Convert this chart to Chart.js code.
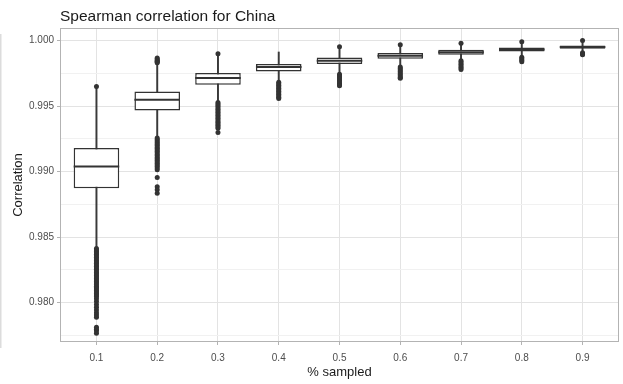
<!DOCTYPE html>
<html>
<head>
<meta charset="utf-8">
<script src="https://cdn.jsdelivr.net/npm/chart.js@4.4.1/dist/chart.umd.min.js"></script>
<style>
html,body{margin:0;padding:0;background:#ffffff;}
#wrap{width:623px;height:384px;position:relative;}
</style>
</head>
<body>
<div id="wrap"><canvas id="c" width="623" height="384"></canvas></div>
<script>
// ---- data ----
const categories = [0.1, 0.2, 0.3, 0.4, 0.5, 0.6, 0.7, 0.8, 0.9];
const tickLabels = ['0.1', '0.2', '0.3', '0.4', '0.5', '0.6', '0.7', '0.8', '0.9'];

const q1          = [0.98873, 0.99466, 0.99662, 0.99763, 0.99820, 0.99860, 0.99891, 0.99916, 0.99937];
const median      = [0.99038, 0.99547, 0.99713, 0.99797, 0.99845, 0.99883, 0.99910, 0.99931, 0.99950];
const q3          = [0.99179, 0.99611, 0.99751, 0.99820, 0.99870, 0.99904, 0.99929, 0.99947, 0.99962];
const whiskerLow  = [0.98420, 0.99260, 0.99530, 0.99685, 0.99748, 0.99805, 0.99850, 0.99878, 0.99912];
const whiskerHigh = [0.99640, 0.99825, 0.99885, 0.99912, 0.99940, 0.99960, 0.99970, 0.99980, 0.99993];

const outliers01 = [0.99649,
                    0.98413, 0.98402, 0.98391, 0.98380, 0.98369, 0.98357, 0.98346, 0.98334, 0.98322, 0.98311,
                    0.98300, 0.98288, 0.98277, 0.98265, 0.98254, 0.98242, 0.98230, 0.98219, 0.98207, 0.98196,
                    0.98184, 0.98172, 0.98161, 0.98150, 0.98138, 0.98126, 0.98115, 0.98104, 0.98092, 0.98081,
                    0.98069, 0.98058, 0.98047, 0.98030, 0.98008, 0.97986, 0.97965, 0.97944, 0.97924, 0.97905,
                    0.97888, 0.97812, 0.97798, 0.97786, 0.97766];
const outliers02 = [0.99866, 0.99858, 0.99849, 0.99842, 0.99835, 0.99829,
                    0.99256, 0.99245, 0.99234, 0.99222, 0.99211, 0.99200, 0.99188, 0.99177, 0.99166, 0.99154,
                    0.99143, 0.99131, 0.99120, 0.99108, 0.99097, 0.99086, 0.99074, 0.99063, 0.99052, 0.99040,
                    0.99028, 0.99013, 0.98954, 0.98885, 0.98862, 0.98835];
const outliers03 = [0.99898,
                    0.99526, 0.99515, 0.99503, 0.99492, 0.99480, 0.99469, 0.99457, 0.99446, 0.99434, 0.99423,
                    0.99411, 0.99400, 0.99388, 0.99377, 0.99365, 0.99354, 0.99342, 0.99331, 0.99298];
const outliers04 = [0.99681, 0.99670, 0.99658, 0.99647, 0.99635, 0.99624, 0.99612, 0.99601, 0.99589, 0.99578,
                    0.99566, 0.99558];
const outliers05 = [0.99952, 0.99743, 0.99731, 0.99720, 0.99708, 0.99697, 0.99685, 0.99674, 0.99662, 0.99654];
const outliers06 = [0.99967, 0.99798, 0.99787, 0.99775, 0.99764, 0.99752, 0.99741, 0.99729, 0.99718, 0.99712];
const outliers07 = [0.99978, 0.99846, 0.99835, 0.99823, 0.99812, 0.99800, 0.99789, 0.99778];
const outliers08 = [0.99990, 0.99871, 0.99860, 0.99849, 0.99838];
const outliers09 = [1.00000, 0.99906, 0.99896, 0.99891];
const outliers = [outliers01, outliers02, outliers03, outliers04, outliers05, outliers06, outliers07, outliers08, outliers09];

const yMajorTicks = [0.980, 0.985, 0.990, 0.995, 1.000];
const yMinorTicks = [0.9775, 0.9825, 0.9875, 0.9925, 0.9975];

const titleText = 'Spearman correlation for China';
const xTitleText = '% sampled';
const yTitleText = 'Correlation';

// ---- chart ----
const FONT = '"Liberation Sans", Arial, Helvetica, sans-serif';
Chart.defaults.font.family = FONT;

const isMajor = v => yMajorTicks.some(t => Math.abs(t - v) < 1e-9);
const boxHalfWidth = ctx => {
  const xs = ctx.chart.scales.x;
  return Math.abs(xs.getPixelForValue(categories[1]) - xs.getPixelForValue(categories[0])) * 0.375;
};

const outlierPoints = [];
outliers.forEach((arr, i) => arr.forEach(v => outlierPoints.push({x: categories[i], y: v})));

const decor = {
  id: 'decor',
  afterDraw(chart) {
    const {ctx, chartArea: a} = chart;
    ctx.save();
    ctx.strokeStyle = '#b3b3b3';
    ctx.lineWidth = 1;
    ctx.strokeRect(Math.round(a.left) + 0.5, Math.round(a.top) + 0.5,
                   Math.round(a.right - a.left) - 1, Math.round(a.bottom - a.top) - 1);
    ctx.fillStyle = '#1a1a1a';
    ctx.font = '15.5px ' + FONT;
    ctx.textBaseline = 'alphabetic';
    ctx.textAlign = 'left';
    ctx.fillText(titleText, a.left, 21);
    ctx.fillStyle = '#dcdcdc';
    ctx.fillRect(0, 34, 1.5, 314);
    ctx.restore();
  }
};

new Chart(document.getElementById('c'), {
  type: 'bar',
  data: {
    datasets: [
      {
        type: 'line',
        label: 'outliers',
        data: outlierPoints,
        showLine: false,
        pointRadius: 2.5,
        pointBackgroundColor: '#333333',
        pointBorderWidth: 0,
        order: 0
      },
      {
        type: 'line',
        label: 'median',
        data: categories.map((c, i) => ({x: c, y: median[i]})),
        showLine: false,
        pointStyle: 'line',
        pointRadius: boxHalfWidth,
        pointBorderWidth: 2,
        pointBorderColor: '#333333',
        order: 1
      },
      {
        type: 'bar',
        label: 'box',
        data: categories.map((c, i) => ({x: c, y: [q1[i], q3[i]]})),
        backgroundColor: '#ffffff',
        borderColor: '#333333',
        borderWidth: 1.5,
        borderSkipped: false,
        grouped: false,
        categoryPercentage: 1,
        barPercentage: 0.75,
        order: 2
      },
      {
        type: 'bar',
        label: 'whisker',
        data: categories.map((c, i) => ({x: c, y: [whiskerLow[i], whiskerHigh[i]]})),
        backgroundColor: '#3a3a3a',
        borderWidth: 0,
        grouped: false,
        barThickness: 1.3,
        order: 3
      }
    ]
  },
  options: {
    responsive: false,
    devicePixelRatio: 1,
    animation: false,
    events: [],
    layout: {padding: {top: 28, right: 2, left: 0, bottom: 0}},
    plugins: {
      legend: {display: false},
      tooltip: {enabled: false},
      title: {display: false}
    },
    scales: {
      x: {
        type: 'linear',
        min: 0.04,
        max: 0.96,
        offset: false,
        afterBuildTicks: s => { s.ticks = categories.map(v => ({value: v})); },
        afterFit: s => { s.height = 42; },
        ticks: {
          autoSkip: false,
          maxRotation: 0,
          padding: 7,
          color: '#4d4d4d',
          font: {size: 10},
          callback: v => {
            const i = categories.findIndex(t => Math.abs(t - v) < 1e-9);
            return i >= 0 ? tickLabels[i] : '';
          }
        },
        grid: {offset: false, color: '#e3e3e3', lineWidth: 1, tickLength: 3, tickColor: '#b3b3b3'},
        border: {display: false},
        title: {display: true, text: xTitleText, color: '#1a1a1a', font: {size: 13}, padding: {top: 0, bottom: 4}}
      },
      y: {
        type: 'linear',
        min: 0.977,
        max: 1.00095,
        afterBuildTicks: s => {
          s.ticks = yMinorTicks.concat(yMajorTicks).sort((a, b) => a - b).map(v => ({value: v}));
        },
        afterFit: s => { s.width = 60; },
        ticks: {
          autoSkip: false,
          padding: 3,
          color: '#4d4d4d',
          font: {size: 10},
          callback: v => {
            const i = yMajorTicks.findIndex(t => Math.abs(t - v) < 1e-9);
            return i >= 0 ? yMajorTicks[i].toFixed(3) : '';
          }
        },
        grid: {
          color: c => (c.tick && isMajor(c.tick.value)) ? '#e3e3e3' : '#f1f1f1',
          lineWidth: 1,
          tickLength: 3,
          tickColor: c => (c.tick && isMajor(c.tick.value)) ? '#b3b3b3' : 'rgba(0,0,0,0)'
        },
        border: {display: false},
        title: {display: true, text: yTitleText, color: '#1a1a1a', font: {size: 13}, padding: {top: 11, bottom: 0}}
      }
    }
  },
  plugins: [decor]
});
</script>
</body>
</html>
